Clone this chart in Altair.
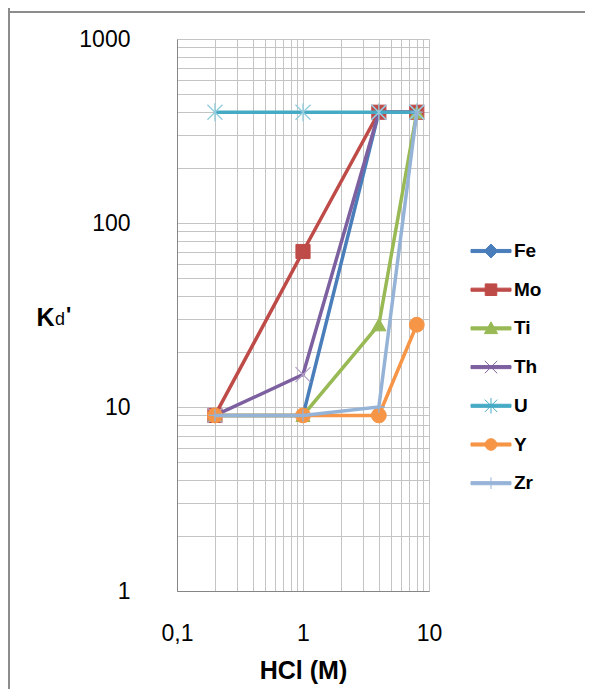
import altair as alt
import pandas as pd

# ---- data ----
series = ["Fe", "Mo", "Ti", "Th", "U", "Y", "Zr"]
hcl = [0.2, 1, 4, 8]
kd_fe = [9, 9, 400, 400]
kd_mo = [9, 70, 400, 400]
kd_ti = [9, 9, 28, 400]
kd_th = [9, 15, 400, 400]
kd_u = [400, 400, 400, 400]
kd_y = [9, 9, 9, 28]
kd_zr = [9, 9, 10, 400]
all_kd = [kd_fe, kd_mo, kd_ti, kd_th, kd_u, kd_y, kd_zr]

x_label_values = [0.1, 1, 10]
x_label_texts = ["0,1", "1", "10"]
y_label_values = [1, 10, 100, 1000]
y_label_texts = ["1", "10", "100", "1000"]

# ---- styles ----
line_colors = ["#4A7EBB", "#BE4B48", "#98B954", "#7D60A0", "#46AAC5", "#F69546", "#95B3D7"]
marker_colors = ["#4A7EBB", "#BE4B48", "#98B954", "#B3A2C7", "#93CDDD", "#F69546", "#95B3D7"]
X_PATH = "M-1,-1L1,1M-1,1L1,-1"
AST_PATH = "M-1,-1L1,1M-1,1L1,-1M0,-1.2V1.2"
PLUS_PATH = "M0,-1V1M-1,0H1"
marker_shapes = ["diamond", "square", "triangle-up", X_PATH, AST_PATH, "circle", PLUS_PATH]
marker_sizes = [150, 200, 200, 225, 225, 220, 150]

R = "M-1.034,-0.08H1.034V0.08H-1.034Z"
legend_paths = [
    R + "M0,-0.36L0.36,0L0,0.36L-0.36,0Z",
    R + "M-0.3,-0.3H0.3V0.3H-0.3Z",
    R + "M0,-0.34L0.34,0.27H-0.34Z",
    R + "M-0.32,-0.32L0.32,0.32M-0.32,0.32L0.32,-0.32",
    R + "M-0.32,-0.32L0.32,0.32M-0.32,0.32L0.32,-0.32M0,-0.4V0.4",
    R + "M-0.3,0A0.3,0.3 0 1,1 0.3,0A0.3,0.3 0 1,1 -0.3,0Z",
    R + "M0,-0.3V0.3",
]

rows = []
for s, vals in zip(series, all_kd):
    for x, v in zip(hcl, vals):
        rows.append({"series": s, "hcl": x, "kd": v})
df = pd.DataFrame(rows)

x_grid = [round(m * 10.0 ** e, 6) for e in (-1, 0) for m in range(1, 10)] + [10]
y_grid = [m * 10 ** e for e in (0, 1, 2) for m in range(1, 10)] + [1000]


def label_expr(vals, texts):
    expr = "''"
    for v, t in reversed(list(zip(vals, texts))):
        expr = f"abs(datum.value - {v}) < {v}*1e-6 ? '{t}' : ({expr})"
    return expr


FONT = "Liberation Sans"
GRID = "#C4C4C4"

x_enc = alt.X(
    "hcl:Q",
    scale=alt.Scale(type="log", domain=[0.1, 10], nice=False),
    axis=alt.Axis(
        values=x_grid, labelExpr=label_expr(x_label_values, x_label_texts),
        grid=True, gridColor=GRID, gridWidth=1, ticks=False,
        domainColor="#868686", labelFont=FONT, labelFontSize=23, labelColor="black",
        labelPadding=31, labelFlush=False, labelOverlap=False,
        title="HCl (M)", titleFont=FONT, titleFontSize=25, titleFontWeight="bold",
        titleColor="black", titleX=126, titleY=87, titleBaseline="alphabetic",
    ),
)
y_enc = alt.Y(
    "kd:Q",
    scale=alt.Scale(type="log", domain=[1, 1000], nice=False),
    axis=alt.Axis(
        values=y_grid, labelExpr=label_expr(y_label_values, y_label_texts),
        grid=True, gridColor=GRID, gridWidth=1, ticks=False,
        domainColor="#868686", labelFont=FONT, labelFontSize=23, labelColor="black",
        labelPadding=47, labelFlush=False, labelOverlap=False,
        title="K", titleFont=FONT, titleFontSize=25, titleFontWeight="bold",
        titleColor="black", titleAngle=0, titleAlign="left", titleBaseline="alphabetic",
        titleX=-141, titleY=286,
    ),
)

base = alt.Chart(df)
layers = []
for i, s in enumerate(series):
    sub = base.transform_filter(alt.datum.series == s)
    layers.append(
        sub.mark_line(color=line_colors[i], strokeWidth=3.5).encode(x=x_enc, y=y_enc)
    )
    filled = not marker_shapes[i].startswith("M")
    layers.append(
        sub.mark_point(
            shape=marker_shapes[i], filled=True, fill=marker_colors[i] if filled else "transparent",
            stroke=marker_colors[i], strokeWidth=1.3 if not filled else 1,
            size=marker_sizes[i], opacity=1,
        ).encode(x=x_enc, y=y_enc)
    )

legend_layer = base.transform_filter("false").mark_point(filled=True, opacity=1).encode(
    x=x_enc, y=y_enc,
    shape=alt.Shape("series:N", scale=alt.Scale(domain=series, range=legend_paths),
                    legend=alt.Legend(
                        title=None, orient="none", legendX=294, legendY=192,
                        symbolSize=1498, symbolStrokeWidth=1, rowPadding=8.7, padding=0,
                        labelFont=FONT, labelFontSize=19, labelFontWeight="bold",
                        labelColor="black", labelOffset=3, labelLimit=100,
                    )),
    fill=alt.Fill("series:N", scale=alt.Scale(domain=series, range=line_colors)),
    stroke=alt.Stroke("series:N", scale=alt.Scale(domain=series, range=line_colors)),
)

one = alt.Chart(pd.DataFrame({"k": [0]}))
sub_d = one.mark_text(text="d", font=FONT, fontSize=18, align="left",
                      baseline="alphabetic", color="black").encode(
    x=alt.value(-122), y=alt.value(286))
prime = one.mark_text(text="'", font=FONT, fontSize=22, fontWeight="bold", align="left",
                      baseline="alphabetic", color="black").encode(
    x=alt.value(-111), y=alt.value(283))
top_rule = one.mark_rule(color="#8C8C8C", strokeWidth=2).encode(
    x=alt.value(-169), x2=alt.value(408), y=alt.value(-27))
left_rule = one.mark_rule(color="#8C8C8C", strokeWidth=2).encode(
    x=alt.value(-168), y=alt.value(-31), y2=alt.value(650))

chart = alt.layer(*layers, legend_layer, sub_d, prime, top_rule, left_rule).properties(
    width=252, height=552,
    autosize=alt.AutoSizeParams(type="none"),
    padding={"left": 169, "top": 31, "right": 156, "bottom": 98},
).configure_view(stroke=GRID).configure(background="white")

chart.save("out.html", embed_options={"renderer": "svg", "actions": False})
